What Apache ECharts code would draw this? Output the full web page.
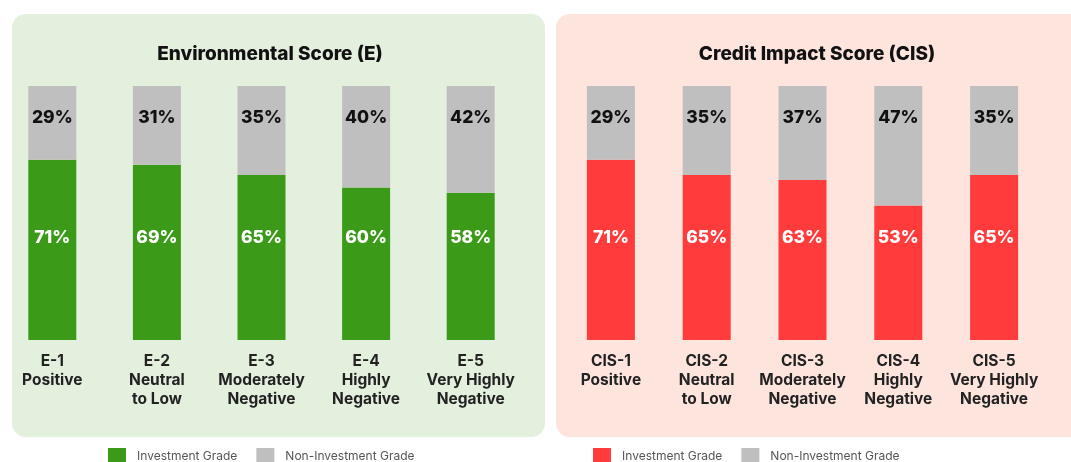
<!DOCTYPE html>
<html>
<head>
<meta charset="utf-8">
<script src="https://cdn.jsdelivr.net/npm/echarts@6/dist/echarts.min.js"></script>
<style>
  html, body { margin: 0; padding: 0; background: #fff; }
  #chart { width: 1071px; height: 462px; }
</style>
</head>
<body>
<div id="chart"></div>
<script>
const envCategories = ["E-1\nPositive", "E-2\nNeutral\nto Low", "E-3\nModerately\nNegative", "E-4\nHighly\nNegative", "E-5\nVery Highly\nNegative"];
const envInvestment = [71, 69, 65, 60, 58];
const envNonInvestment = [29, 31, 35, 40, 42];

const cisCategories = ["CIS-1\nPositive", "CIS-2\nNeutral\nto Low", "CIS-3\nModerately\nNegative", "CIS-4\nHighly\nNegative", "CIS-5\nVery Highly\nNegative"];
const cisInvestment = [71, 65, 63, 53, 65];
const cisNonInvestment = [29, 35, 37, 47, 35];

const GREEN = "#3b9a18";
const RED = "#ff3b3b";
const GREY = "#c0bfbf";
const FONT = "Inter";

var chart = echarts.init(document.getElementById('chart'));

function xAxisFor(idx, cats) {
    return {
        type: "category",
        gridIndex: idx,
        data: cats,
        axisLine: { show: false },
        axisTick: { show: false },
        axisLabel: {
            interval: 0,
            margin: 12,
            color: "#222",
            fontFamily: FONT,
            fontWeight: "bold",
            fontSize: 15.5,
            lineHeight: 19
        }
    };
}

function yAxisFor(idx) {
    return { type: "value", gridIndex: idx, min: 0, max: 100, show: false };
}

function barsFor(idx, inv, nonInv, color) {
    return [
        {
            name: "Investment Grade",
            type: "bar",
            stack: "s" + idx,
            xAxisIndex: idx,
            yAxisIndex: idx,
            data: inv,
            barWidth: 48,
            itemStyle: { color: color },
            label: {
                show: true,
                position: "insideBottom",
                distance: 93,
                formatter: "{c}%",
                color: "#fff",
                fontFamily: FONT,
                fontWeight: 800,
                fontSize: 17.5
            }
        },
        {
            name: "Non-Investment Grade",
            type: "bar",
            stack: "s" + idx,
            xAxisIndex: idx,
            yAxisIndex: idx,
            data: nonInv,
            barWidth: 48,
            itemStyle: { color: GREY },
            label: {
                show: true,
                position: "insideTop",
                distance: 23,
                formatter: "{c}%",
                color: "#111",
                fontFamily: FONT,
                fontWeight: 800,
                fontSize: 17.5
            }
        }
    ];
}

function legendFor(left, color) {
    return {
        left: left,
        top: 443,
        itemWidth: 18,
        itemHeight: 16,
        itemGap: 19,
        icon: "rect",
        textStyle: { color: "#555", fontFamily: FONT, fontSize: 12, padding: [0, 0, 0, 6] },
        data: [
            { name: "Investment Grade", itemStyle: { color: color } },
            { name: "Non-Investment Grade", itemStyle: { color: GREY } }
        ]
    };
}

const titleStyle = { fontFamily: FONT, fontWeight: 800, fontSize: 19, color: "#111" };

chart.setOption({
    animation: false,
    graphic: [
        { type: "rect", z: -10, shape: { x: 12, y: 14, width: 533, height: 423, r: 14 }, style: { fill: "#e3f0dd" } },
        { type: "rect", z: -10, shape: { x: 556, y: 14, width: 540, height: 423, r: 14 }, style: { fill: "#fde4dc" } }
    ],
    title: [
        { text: "Environmental Score (E)", left: 265, top: 40, textAlign: "center", textStyle: titleStyle },
        { text: "Credit Impact Score (CIS)", left: 812, top: 40, textAlign: "center", textStyle: titleStyle }
    ],
    legend: [legendFor(103, GREEN), legendFor(588, RED)],
    grid: [
        { left: -3, top: 86, width: 526, height: 254 },
        { left: 563, top: 86, width: 479, height: 254 }
    ],
    xAxis: [xAxisFor(0, envCategories), xAxisFor(1, cisCategories)],
    yAxis: [yAxisFor(0), yAxisFor(1)],
    series: [].concat(
        barsFor(0, envInvestment, envNonInvestment, GREEN),
        barsFor(1, cisInvestment, cisNonInvestment, RED)
    )
});

window.addEventListener("resize", () => {
    if (chart) chart.resize();
});
</script>
</body>
</html>
